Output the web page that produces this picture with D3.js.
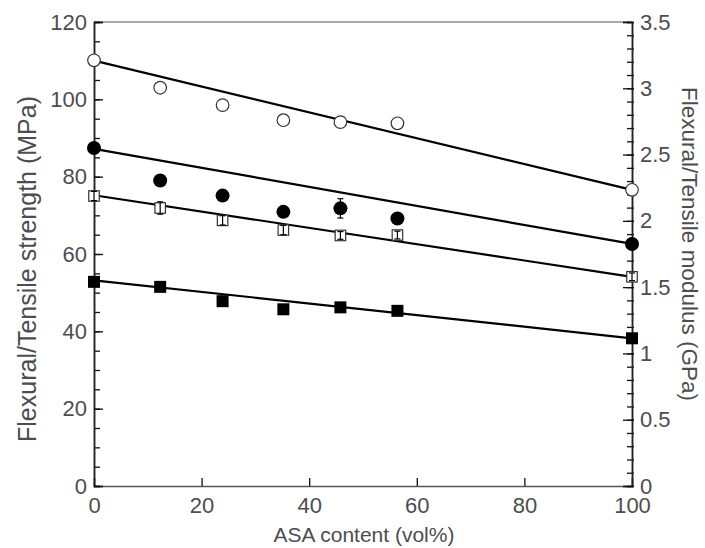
<!DOCTYPE html>
<html>
<head>
<meta charset="utf-8">
<script src="https://cdn.jsdelivr.net/npm/d3@7"></script>
<style>
  body { margin: 0; background: #fff; }
  text { font-family: "Liberation Sans", Arial, sans-serif; fill: #4d4d4d; }
</style>
</head>
<body>
<script>
// ASA content (vol%) of each sample
var asaContent = [0, 12.3, 23.9, 35.2, 45.8, 56.4, 100];

// values read on the left axis (MPa)
var openCircle   = [110.1, 103.0, 98.5, 94.6, 94.1, 93.8, 76.6];
var filledCircle = [87.4, 79.0, 75.1, 70.9, 71.8, 69.2, 62.6];
var openSquare   = [75.0, 71.9, 68.7, 66.2, 64.8, 64.9, 54.1];
var filledSquare = [52.8, 51.5, 47.8, 45.7, 46.2, 45.3, 38.2];

// error bar half widths
var openCircleErr   = [0, 0, 0, 0, 0, 0, 0];
var filledCircleErr = [1.2, 0.8, 0.8, 0.8, 2.5, 0.8, 0.8];
var openSquareErr   = [1.2, 1.6, 1.2, 1.2, 1.0, 1.0, 1.0];
var filledSquareErr = [0.8, 0.8, 1.2, 0.8, 0.8, 0.8, 0.6];

// straight lines drawn through each series
var fitX = [0, 100];
var openCircleFit   = [110.0, 76.6];
var filledCircleFit = [87.2, 62.6];
var openSquareFit   = [75.2, 54.1];
var filledSquareFit = [53.2, 38.2];

var xTicks = [0, 20, 40, 60, 80, 100];
var leftTicks = [0, 20, 40, 60, 80, 100, 120];
var rightTicks = [0, 0.5, 1, 1.5, 2, 2.5, 3, 3.5];

var width = 705, height = 548;
var plotL = 94, plotR = 632, plotT = 22, plotB = 486;

var svg = d3.select("body")
    .append("svg")
    .attr("width", width)
    .attr("height", height);

var x = d3.scaleLinear().domain([0, 100]).range([plotL, plotR]);
var y = d3.scaleLinear().domain([0, 120]).range([plotB, plotT]);
var y2 = d3.scaleLinear().domain([0, 3.5]).range([plotB, plotT]);

// frame
svg.append('line')
    .attr('x1', plotL).attr('x2', plotR)
    .attr('y1', plotT).attr('y2', plotT)
    .attr('stroke', '#555').attr('stroke-width', 1.2);

// bottom axis
var xAxis = svg.append('g')
    .attr('transform', `translate(0, ${plotB})`)
    .call(d3.axisBottom(x).tickValues(xTicks).tickSize(-8).tickPadding(11).tickFormat(d3.format('d')));

// left axis, minor every 5
var yAxisMinor = svg.append('g')
    .attr('transform', `translate(${plotL}, 0)`)
    .call(d3.axisLeft(y).tickValues(d3.range(0, 121, 5)).tickSize(-6).tickFormat(''));
var yAxis = svg.append('g')
    .attr('transform', `translate(${plotL}, 0)`)
    .call(d3.axisLeft(y).tickValues(leftTicks).tickSize(-9).tickPadding(7).tickFormat(d3.format('d')));

// right axis, minor every 0.1
var y2Minor = svg.append('g')
    .attr('transform', `translate(${plotR}, 0)`)
    .call(d3.axisRight(y2).tickValues(d3.range(0, 36).map(function(d) { return d / 10; })).tickSize(-5).tickFormat(''));
var y2Axis = svg.append('g')
    .attr('transform', `translate(${plotR}, 0)`)
    .call(d3.axisRight(y2).tickValues(rightTicks).tickSize(-9).tickPadding(8).tickFormat(d3.format('')));

[xAxis, yAxisMinor, yAxis, y2Minor, y2Axis].forEach(function(g) {
    g.select('.domain').attr('stroke', '#222').attr('stroke-width', 1.5);
    g.selectAll('.tick line').attr('stroke', '#111').attr('stroke-width', 1.3);
    g.selectAll('.tick text')
        .style('font-size', '22px')
        .style('fill', '#4d4d4d')
        .attr('font-family', null);
});
xAxis.select('.domain').attr('stroke', '#555');
y2Minor.selectAll('.tick line').attr('x2', -5).attr('x1', 2);
y2Axis.selectAll('.tick line').attr('x1', 2);

// axis titles
svg.append('text')
    .attr('x', 364)
    .attr('y', 542)
    .attr('text-anchor', 'middle')
    .style('font-size', '21px')
    .text('ASA content (vol%)');

svg.append('text')
    .attr('transform', 'translate(36, 269) rotate(-90)')
    .attr('text-anchor', 'middle')
    .style('font-size', '25px')
    .text('Flexural/Tensile strength (MPa)');

svg.append('text')
    .attr('transform', 'translate(682, 244) rotate(90)')
    .attr('text-anchor', 'middle')
    .style('font-size', '22.5px')
    .text('Flexural/Tensile modulus (GPa)');

var series = [
    { values: openCircle, err: openCircleErr, fit: openCircleFit, shape: 'circle', filled: false },
    { values: filledCircle, err: filledCircleErr, fit: filledCircleFit, shape: 'circle', filled: true },
    { values: openSquare, err: openSquareErr, fit: openSquareFit, shape: 'square', filled: false },
    { values: filledSquare, err: filledSquareErr, fit: filledSquareFit, shape: 'square', filled: true }
];

var line = d3.line()
    .x(function(d) { return x(d[0]); })
    .y(function(d) { return y(d[1]); });

series.forEach(function(s) {
    svg.append('path')
        .attr('d', line(d3.zip(fitX, s.fit)))
        .attr('fill', 'none')
        .attr('stroke', '#000')
        .attr('stroke-width', 2.2);
});

series.forEach(function(s) {
    var g = svg.append('g');
    var pts = d3.zip(asaContent, s.values, s.err);

    var marks;
    if (s.shape === 'circle') {
        marks = g.selectAll('circle').data(pts).enter().append('circle')
            .attr('cx', function(d) { return x(d[0]); })
            .attr('cy', function(d) { return y(d[1]); })
            .attr('r', s.filled ? 7 : 6.3);
    } else {
        var side = s.filled ? 12 : 10.5;
        marks = g.selectAll('rect').data(pts).enter().append('rect')
            .attr('x', function(d) { return x(d[0]) - side / 2; })
            .attr('y', function(d) { return y(d[1]) - side / 2; })
            .attr('width', side)
            .attr('height', side);
    }
    marks.attr('fill', s.filled ? '#000' : '#fff')
        .attr('stroke', s.filled ? '#000' : '#333')
        .attr('stroke-width', s.filled ? 0 : 1.2);

    // error bars drawn on top
    var eb = g.selectAll('g.err').data(pts.filter(function(d) { return d[2] > 0; })).enter().append('g');
    eb.append('line')
        .attr('x1', function(d) { return x(d[0]); })
        .attr('x2', function(d) { return x(d[0]); })
        .attr('y1', function(d) { return y(d[1] - d[2]); })
        .attr('y2', function(d) { return y(d[1] + d[2]); });
    [-1, 1].forEach(function(sign) {
        eb.append('line')
            .attr('x1', function(d) { return x(d[0]) - 3; })
            .attr('x2', function(d) { return x(d[0]) + 3; })
            .attr('y1', function(d) { return y(d[1] + sign * d[2]); })
            .attr('y2', function(d) { return y(d[1] + sign * d[2]); });
    });
    eb.selectAll('line').attr('stroke', '#000').attr('stroke-width', 1.2);
});
</script>
</body>
</html>
